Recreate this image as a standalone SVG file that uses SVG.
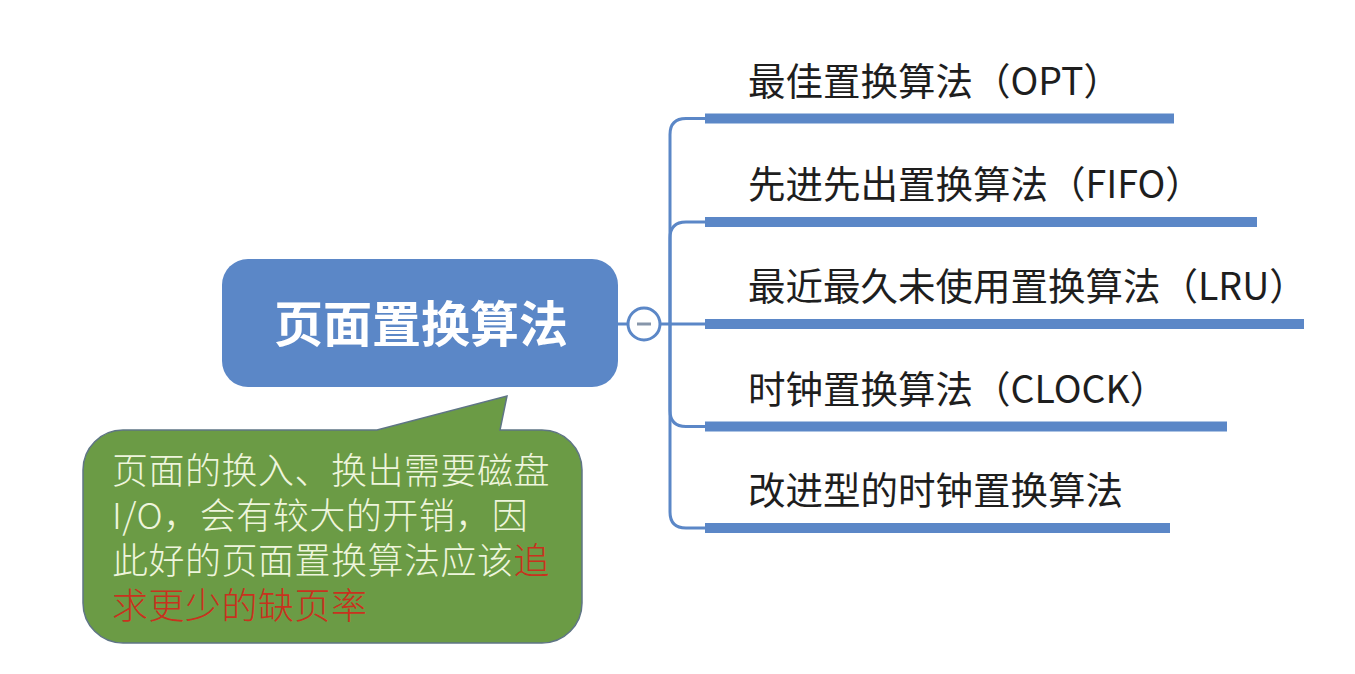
<svg xmlns="http://www.w3.org/2000/svg" width="1355" height="674" viewBox="0 0 1355 674">
<style>
.conn{fill:none;stroke:#5b87c7;stroke-width:3;stroke-linecap:round}
.bar{stroke:#5b87c7;stroke-width:10;stroke-linecap:butt}
.lbl{font-family:"Noto Sans CJK SC","Liberation Sans",sans-serif;font-size:37.5px;fill:#1e1e1e}
.main{font-family:"Noto Sans CJK SC","Liberation Sans",sans-serif;font-size:49px;font-weight:bold;fill:#ffffff}
.note{font-family:"Noto Sans CJK SC","Liberation Sans",sans-serif;font-size:36px;font-weight:300;fill:#eef5dc;letter-spacing:0.5px}
.red{fill:#c8321e}
</style>
<rect width="1355" height="674" fill="#ffffff"/>
<g id="connectors">
<path class="conn" d="M618 324 L705 324"/>
<path class="conn" d="M670 324 L670 134.5 Q670 118.5 686 118.5 L705 118.5"/>
<path class="conn" d="M670 324 L670 238 Q670 222 686 222 L705 222"/>
<path class="conn" d="M670 324 L670 410.5 Q670 426.5 686 426.5 L705 426.5"/>
<path class="conn" d="M670 324 L670 512 Q670 528 686 528 L705 528"/>
</g>
<g id="root">
<rect x="222" y="259" width="396" height="128" rx="26" fill="#5b87c7"/>
<text class="main" x="421" y="342" text-anchor="middle">页面置换算法</text>
<circle cx="644" cy="324" r="16" fill="#ffffff" stroke="#5b87c7" stroke-width="3"/>
<line x1="637" y1="324" x2="651" y2="324" stroke="#8796aa" stroke-width="3"/>
</g>
<g id="n1">
<line class="bar" x1="705" y1="118.5" x2="1174" y2="118.5"/>
<text class="lbl" x="748" y="95">最佳置换算法（OPT）</text>
</g>
<g id="n2">
<line class="bar" x1="705" y1="222" x2="1257" y2="222"/>
<text class="lbl" x="748" y="198">先进先出置换算法（FIFO）</text>
</g>
<g id="n3">
<line class="bar" x1="705" y1="324" x2="1304" y2="324"/>
<text class="lbl" x="748" y="300">最近最久未使用置换算法（LRU）</text>
</g>
<g id="n4">
<line class="bar" x1="705" y1="426.5" x2="1227" y2="426.5"/>
<text class="lbl" x="748" y="403">时钟置换算法（CLOCK）</text>
</g>
<g id="n5">
<line class="bar" x1="705" y1="528" x2="1170" y2="528"/>
<text class="lbl" x="748" y="504">改进型的时钟置换算法</text>
</g>
<g id="note">
<path d="M123 430 L377 430 L507 396 L500 430 L542 430 A40 40 0 0 1 582 470 L582 603 A40 40 0 0 1 542 643 L123 643 A40 40 0 0 1 83 603 L83 470 A40 40 0 0 1 123 430 Z" fill="#6b9b45" stroke="#5f7585" stroke-width="1.5"/>
<text class="note" x="112" y="484">页面的换入、换出需要磁盘</text>
<text class="note" x="112" y="529">I/O，会有较大的开销，因</text>
<text class="note" x="112" y="574">此好的页面置换算法应该<tspan class="red">追</tspan></text>
<text class="note red" x="112" y="619">求更少的缺页率</text>
</g>
</svg>
